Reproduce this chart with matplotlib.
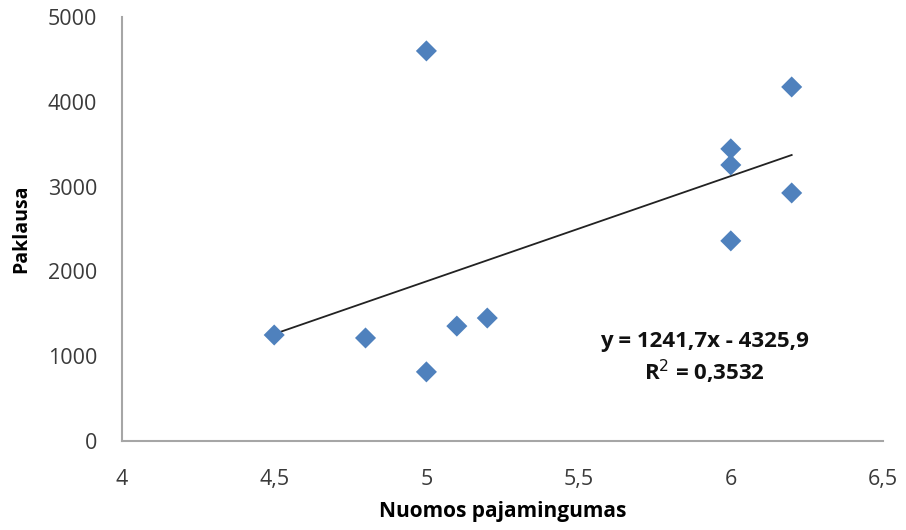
import matplotlib
matplotlib.use("Agg")
import matplotlib.pyplot as plt
import numpy as np

# Rental income vs. demand
nuomos = [4.5, 4.8, 5.0, 5.0, 5.1, 5.2, 6.0, 6.0, 6.0, 6.2, 6.2]
paklausa = [1250, 1215, 4600, 815, 1355, 1450, 3445, 3255, 2360, 4175, 2925]
slope, intercept = 1241.7, -4325.9
r2_text = "0,3532"
x_ticks = [4, 4.5, 5, 5.5, 6, 6.5]
x_tick_labels = ["4", "4,5", "5", "5,5", "6", "6,5"]
y_ticks = [0, 1000, 2000, 3000, 4000, 5000]

plt.rcParams['font.family'] = ['Open Sans', 'DejaVu Sans']

fig = plt.figure(figsize=(9.06, 5.30), dpi=100)
ax = fig.add_axes([122/906, 1 - 441/530, (883-122)/906, (441-17)/530])

ax.scatter(nuomos, paklausa, marker='D', s=115, color='#4F81BD', edgecolors='none', zorder=3)

xt = np.array([min(nuomos), max(nuomos)])
ax.plot(xt, slope * xt + intercept, color='#222222', lw=1.3, zorder=2)

ax.set_xlim(4, 6.5)
ax.set_ylim(0, 5000)
ax.set_xticks(x_ticks)
ax.set_xticklabels(x_tick_labels)
ax.set_yticks(y_ticks)
ax.tick_params(axis='both', length=0, labelsize=15.5, colors='#3a3a3a')
ax.tick_params(axis='y', pad=18)
ax.tick_params(axis='x', pad=20)

for side in ('top', 'right'):
    ax.spines[side].set_visible(False)
for side in ('left', 'bottom'):
    ax.spines[side].set_color('#A6A6A6')
    ax.spines[side].set_linewidth(1.5)

ax.set_xlabel("Nuomos pajamingumas", fontsize=15, fontweight='bold', labelpad=8)
ax.set_ylabel("Paklausa", fontsize=14, fontweight='bold', labelpad=12)

ax.text(5.915, 975, f"y = {slope:.1f}x - {abs(intercept):.1f}".replace('.', ',') + f"\nR$^2$ = {r2_text}",
        ha='center', va='center', fontsize=16, fontweight='bold',
        linespacing=1.25, color='#111111')

fig.savefig("out.png", dpi=100)
